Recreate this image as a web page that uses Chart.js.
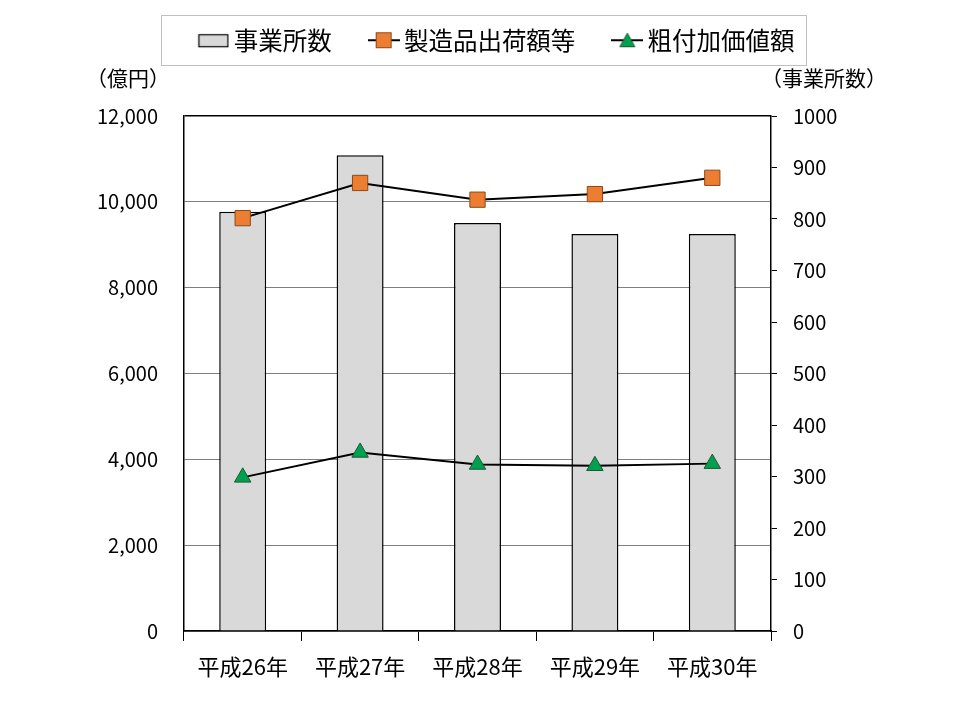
<!DOCTYPE html>
<html>
<head>
<meta charset="utf-8">
<script src="https://cdn.jsdelivr.net/npm/chart.js@4"></script>
<style>
  html, body { margin:0; padding:0; background:#fff; }
  #wrap { width:960px; height:720px; }
</style>
</head>
<body>
<div id="wrap"><canvas id="chart" width="960" height="720"></canvas></div>
<script>
// データ
const categories = ['平成26年', '平成27年', '平成28年', '平成29年', '平成30年'];
const establishments = [814, 924, 792, 771, 771];         // 事業所数（右軸）
const shipments = [9620, 10440, 10050, 10180, 10560];     // 製造品出荷額等（億円）
const valueAdded = [3580, 4160, 3880, 3850, 3900];        // 粗付加価値額（億円）
const seriesNames = ['事業所数', '製造品出荷額等', '粗付加価値額'];
const leftTicks = [0, 2000, 4000, 6000, 8000, 10000, 12000];
const rightTicks = [0, 100, 200, 300, 400, 500, 600, 700, 800, 900, 1000];

const FONT = '"Noto Sans CJK JP", "Noto Sans", sans-serif';

// 凡例アイコン
function makeIcon(kind) {
    const c = document.createElement('canvas');
    c.width = 32; c.height = 20;
    const g = c.getContext('2d');
    if (kind === 'bar') {
        g.fillStyle = '#d9d9d9';
        g.strokeStyle = '#000';
        g.lineWidth = 1.2;
        g.fillRect(1.5, 4.5, 29, 12);
        g.strokeRect(1.5, 4.5, 29, 12);
    } else {
        g.strokeStyle = '#000';
        g.lineWidth = 2;
        g.beginPath(); g.moveTo(0, 10); g.lineTo(32, 10); g.stroke();
        g.lineWidth = 1;
        if (kind === 'square') {
            g.fillStyle = '#ed7d31';
            g.strokeStyle = '#8a4a1c';
            g.fillRect(8.5, 2.5, 15, 15);
            g.strokeRect(8.5, 2.5, 15, 15);
        } else {
            g.fillStyle = '#00a050';
            g.strokeStyle = '#1a5c32';
            g.beginPath();
            g.moveTo(16, 3); g.lineTo(23.5, 16.5); g.lineTo(8.5, 16.5); g.closePath();
            g.fill(); g.stroke();
        }
    }
    return c;
}
const icons = [makeIcon('bar'), makeIcon('square'), makeIcon('tri')];

// 凡例の高さ・枠線、軸タイトル
const layoutPlugin = {
    id: 'layoutPlugin',
    beforeInit(chart) {
        const fit = chart.legend.fit;
        chart.legend.fit = function() {
            fit.bind(chart.legend)();
            this.height = 132;
        };
    },
    afterDraw(chart) {
        const ctx = chart.ctx;
        const boxes = chart.legend.legendHitBoxes;
        if (boxes && boxes.length) {
            let x0 = Infinity, x1 = -Infinity;
            boxes.forEach(b => { x0 = Math.min(x0, b.left); x1 = Math.max(x1, b.left + b.width); });
            ctx.save();
            ctx.strokeStyle = '#bfbfbf';
            ctx.lineWidth = 1;
            ctx.strokeRect(Math.round(x0 - 44) + 0.5, 15.5, Math.round(x1 - x0 + 56), 50);
            ctx.restore();
        }
        ctx.save();
        ctx.fillStyle = '#000';
        ctx.font = '21px ' + FONT;
        ctx.textBaseline = 'middle';
        ctx.textAlign = 'center';
        ctx.fillText('（億円）', 128, 78);
        ctx.fillText('（事業所数）', 824, 78);
        ctx.restore();
    }
};

new Chart(document.getElementById('chart'), {
    data: {
        labels: categories,
        datasets: [
            {
                type: 'bar', label: seriesNames[0], data: establishments, yAxisID: 'y1',
                backgroundColor: '#d9d9d9', borderColor: '#000', borderWidth: 1.5,
                barPercentage: 0.4, categoryPercentage: 1, order: 3
            },
            {
                type: 'line', label: seriesNames[1], data: shipments, yAxisID: 'y',
                borderColor: '#000', borderWidth: 2, tension: 0,
                pointStyle: 'rect', pointRadius: 10.8, pointBackgroundColor: '#ed7d31',
                pointBorderColor: '#8a4a1c', pointBorderWidth: 1, order: 1
            },
            {
                type: 'line', label: seriesNames[2], data: valueAdded, yAxisID: 'y',
                borderColor: '#000', borderWidth: 2, tension: 0,
                pointStyle: 'triangle', pointRadius: 9.5, pointBackgroundColor: '#00a050',
                pointBorderColor: '#1a5c32', pointBorderWidth: 1, order: 2
            }
        ]
    },
    options: {
        responsive: false,
        animation: false,
        layout: { padding: { top: -16, left: 40, right: 0, bottom: 0 } },
        plugins: {
            tooltip: { enabled: false },
            legend: {
                position: 'top',
                labels: {
                    usePointStyle: true,
                    pointStyleWidth: 16,
                    padding: 44,
                    color: '#000',
                    font: { family: FONT, size: 24.5 },
                    generateLabels(chart) {
                        return chart.data.datasets.map((ds, i) => ({
                            text: ds.label, pointStyle: icons[i], datasetIndex: i,
                            fillStyle: 'transparent', strokeStyle: 'transparent', lineWidth: 0,
                            fontColor: '#000', hidden: false
                        }));
                    }
                }
            }
        },
        scales: {
            x: {
                offset: true,
                grid: { offset: true, drawOnChartArea: false, tickLength: 10, color: '#000', lineWidth: 1 },
                border: { color: '#000', width: 1.5 },
                ticks: { color: '#000', padding: 12, font: { family: FONT, size: 22 } },
                afterFit(s) { s.height = 720 - 631; }
            },
            y: {
                position: 'left', min: 0, max: 12000,
                afterBuildTicks(s) { s.ticks = leftTicks.map(v => ({ value: v })); },
                grid: {
                    drawTicks: false,
                    color: c => (c.tick && c.tick.value === 12000) ? '#000' : '#7f7f7f',
                    lineWidth: c => (c.tick && c.tick.value === 12000) ? 1.5 : 1
                },
                border: { color: '#000', width: 1.5 },
                ticks: {
                    color: '#000', padding: 26, font: { family: FONT, size: 20 },
                    callback: v => v.toLocaleString('en-US')
                },
                afterFit(s) { s.width = 184 - 40; }
            },
            y1: {
                position: 'right', min: 0, max: 1000,
                afterBuildTicks(s) { s.ticks = rightTicks.map(v => ({ value: v })); },
                grid: { drawOnChartArea: false, tickLength: 6, color: '#000' },
                border: { color: '#000', width: 1.5 },
                ticks: {
                    color: '#000', padding: 16, font: { family: FONT, size: 20 },
                    callback: v => String(v)
                },
                afterFit(s) { s.width = 960 - 771; }
            }
        }
    },
    plugins: [layoutPlugin]
});
</script>
</body>
</html>
